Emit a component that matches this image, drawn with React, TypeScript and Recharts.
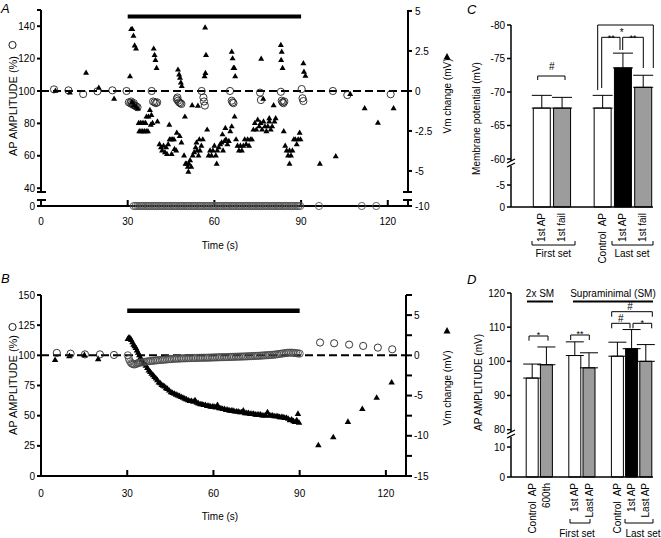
import React from 'react';
import { ComposedChart, Scatter, XAxis, YAxis, ReferenceLine, BarChart, Bar, Cell, ErrorBar } from 'recharts';

type Pt = [number, number];

// ---------- A: AP amplitude (%) and Vm change (mV) vs time (s), intermittent failures
const aAmpPre: Pt[] = [[4.5, 101], [9.5, 100.4], [14.6, 98.1], [19.5, 99.8], [24.7, 100.4], [29.6, 100]];
const aAmpStim: Pt[] = [
  [30.4, 93], [30.9, 92.5], [31.2, 93.5], [31.4, 92], [31.9, 91.5], [32.1, 92.5], [32.4, 91], [32.9, 90.5], [33.4, 90],
  [38.3, 100], [38.8, 93.5], [39.3, 93], [39.8, 92.5], [40.2, 93],
  [47.0, 95], [47.2, 96], [47.4, 94], [47.8, 93], [48.2, 92.5], [48.6, 92],
  [55.6, 100], [56.2, 96], [56.4, 93.5], [56.7, 91],
  [65.4, 100], [66.0, 94], [66.3, 93], [66.6, 92.5],
  [75.8, 99], [76.1, 94.4],
  [83.0, 99.5], [83.3, 94], [83.6, 93], [83.9, 92.5], [84.2, 93.5],
  [90.2, 101.2], [90.5, 95.5], [90.8, 93.8],
];
const aAmpPost: Pt[] = [[101, 100], [106, 97.5], [121, 98]];
// failures (0 %)
const aFailTimes = [
  32.1, 32.7, 33.3, 33.9, 34.5, 35.1, 35.7, 36.3, 36.9, 37.5, 38.1, 38.7, 39.3, 39.9, 40.5, 41.1, 41.7, 42.3, 42.9, 43.5,
  44.1, 44.7, 45.3, 45.9, 46.5, 47.1, 47.7, 48.3, 48.9, 49.5, 50.1, 50.7, 51.3, 51.9, 52.5, 53.1, 53.7, 54.3, 54.9, 55.5,
  56.1, 56.7, 57.3, 57.9, 58.5, 59.1, 59.7, 60.3, 60.9, 61.5, 62.1, 62.7, 63.3, 63.9, 64.5, 65.1, 65.7, 66.3, 66.9, 67.5,
  68.1, 68.7, 69.3, 69.9, 70.5, 71.1, 71.7, 72.3, 72.9, 73.5, 74.1, 74.7, 75.3, 75.9, 76.5, 77.1, 77.7, 78.3, 78.9, 79.5,
  80.1, 80.7, 81.3, 81.9, 82.5, 83.1, 83.7, 84.3, 84.9, 85.5, 86.1, 86.7, 87.3, 87.9, 88.5, 89.1, 89.7, 96.2, 111, 116,
];
const aVmPre: Pt[] = [[5, 0], [10, -0.12], [15.6, 1.12], [20, 0.19], [25.3, -0.5]];
const aVmStim: Pt[] = [
  [30.8, 0.91],
  [31.2, 3.85], [31.6, 3.85], [32.0, 3.44], [32.4, 2.83], [32.9, 2.63],
  [31.5, -0.71], [32.2, -0.91], [33.0, -1.01], [33.5, -1.11],
  [33.8, -2.02], [34.4, -2.02], [35.0, -2.02], [35.6, -2.02], [36.2, -2.02],
  [34.0, -2.53], [34.6, -2.53], [35.2, -2.53], [35.8, -2.53], [36.4, -2.53], [37.0, -2.53],
  [36.5, -1.62], [37.2, -1.62], [37.7, -1.21], [38.2, -1.52], [38.0, -2.13], [38.6, -2.02],
  [39.0, 2.63], [39.3, 2.23], [39.6, 1.92], [40.0, 1.42],
  [40.3, -1.92],
  [41.0, -3.34], [41.5, -3.54], [41.9, -3.74], [42.4, -3.44], [42.9, -3.85], [43.3, -3.54],
  [43.6, -3.95], [44.0, -3.34], [44.5, -3.04], [45.0, -3.04], [45.5, -3.04], [46.0, -3.04],
  [44.4, -2.13], [45.2, -3.95], [46.2, -3.64], [46.8, -3.74], [47.0, -2.63],
  [47.4, 1.32], [47.8, 1.01], [48.1, 0.81], [48.4, 0.51], [48.7, 0.3],
  [48.0, -2.83], [48.6, -3.24],
  [49.5, -4.05], [50.0, -4.56], [50.4, -4.56], [50.8, -4.76], [51.2, -4.56], [51.6, -4.35], [52.0, -4.76],
  [51.0, -5.06], [49.8, -1.62], [52.3, -0.91], [54.3, -0.94],
  [52.5, -4.05], [53.0, -3.85], [53.5, -3.54], [54.0, -3.74], [54.5, -4.05], [55.0, -3.74], [55.5, -3.44],
  [53.8, -3.24], [54.8, -3.04], [56.0, -3.04],
  [56.8, 3.95], [57.1, 2.23], [56.9, 1.11], [56.6, 0.91],
  [57.5, -2.43],
  [58.0, -4.05], [58.5, -3.74], [59.0, -4.05], [59.5, -3.74], [60.0, -3.44], [60.5, -4.05], [61.0, -3.74], [61.5, -3.54], [62.0, -3.34],
  [60.8, -4.56],
  [62.5, -3.24], [63.0, -3.74], [63.5, -3.14], [64.0, -3.04], [64.5, -3.34], [65.0, -3.14],
  [62.8, -2.73], [63.8, -2.33], [65.5, -2.53], [66.0, -2.23],
  [66.0, 2.43], [66.3, 2.02], [66.6, 1.42], [66.9, 1.42], [67.2, 0.91],
  [67.0, -1.62],
  [67.5, -3.04], [68.0, -3.44], [68.5, -3.74], [69.0, -3.44], [69.5, -3.74], [70.0, -3.44], [70.5, -3.04], [71.0, -3.34], [71.5, -3.04],
  [72.0, -3.44], [72.5, -3.04], [73.0, -3.04],
  [73.5, -2.43], [74.0, -2.02], [74.5, -2.43], [75.0, -1.82], [75.5, -2.23], [76.0, -2.02], [76.5, -2.43], [77.0, -1.92],
  [77.5, -2.23], [78.0, -2.53], [78.5, -2.23], [79.0, -1.92], [79.5, -2.43], [80.0, -2.23],
  [76.2, 2.0], [76.9, -0.51], [79.0, -1.72], [80.5, -0.91], [80.8, -1.92], [81.2, -1.72],
  [83.0, 2.86], [83.3, 2.43], [83.1, 1.92], [83.6, 1.42],
  [84.0, -2.53],
  [84.5, -3.44], [85.0, -3.74], [85.5, -4.05], [86.0, -3.74], [86.5, -4.05], [87.0, -3.74], [86.0, -4.56],
  [87.5, -3.04], [88.0, -3.04], [88.5, -3.34], [89.0, -3.04], [89.5, -2.63], [89.8, -3.04],
  [90.8, 1.72], [91.0, 1.19], [91.5, 0.94],
];
const aVmPost: Pt[] = [[96.5, -4.56], [102, -4.1], [107, -0.2], [112, -1.1], [116.6, -2.0], [122, -1.1]];

// broken left axis: 0 % is drawn just under the break, 40..150 % is linear
const ampA = (v: number) => (v >= 40 ? v : 29 + (v * 11) / 40);
const aAmpTicks = [29, 40, 60, 80, 100, 120, 140, 150];
const aAmpLabels = ['0', '40', '60', '80', '100', '120', '140', ''];
const A_VM_FLOOR = -7.19; // where "-10" sits below the right-axis break
const aVmTicks = [A_VM_FLOOR, -5, -2.5, 0, 2.5, 5];
const aVmLabels = ['-10', '-5', '-2.5', '0', '2.5', '5'];

// ---------- B: smooth hyperpolarisation, no failures
const bAmpPre: Pt[] = [[5.5, 102], [10.3, 101.4], [15.3, 100.8], [20.5, 100.8], [25.4, 100.3]];
const bAmpStim: Pt[] = [
  [30.2, 100], [30.6, 97], [31.0, 95], [31.4, 93.5], [31.8, 93], [32.2, 92.5], [32.7, 92.5], [33.2, 93], [33.7, 93.5], [34.2, 94],
  [34.8, 94], [35.4, 94.3], [36.0, 94.5], [36.6, 94.8], [37.2, 95], [37.8, 95.2], [38.4, 95.4], [39.0, 95.5], [39.6, 95.7], [40.2, 95.8],
  [40.8, 96], [41.4, 96.1], [42.0, 96.2], [42.6, 96.4], [43.2, 96.5], [43.8, 96.6], [44.4, 96.8], [45.0, 96.9], [45.6, 97], [46.2, 97.1],
  [46.8, 97.2], [47.4, 97.3], [48.0, 97.3], [48.6, 97.4], [49.2, 97.5], [49.8, 97.5], [50.4, 97.6], [51.0, 97.6], [51.6, 97.7], [52.2, 97.7],
  [52.8, 97.8], [53.4, 97.8], [54.0, 97.8], [54.6, 97.9], [55.2, 97.9], [55.8, 98], [56.4, 98], [57.0, 98], [57.6, 98], [58.2, 98.1],
  [58.8, 98.1], [59.4, 98.2], [60.0, 98.2], [60.6, 98.3], [61.2, 98.3], [61.8, 98.4], [62.4, 98.4], [63.0, 98.5], [63.6, 98.5], [64.2, 98.5],
  [64.8, 98.6], [65.4, 98.6], [66.0, 98.7], [66.6, 98.7], [67.2, 98.8], [67.8, 98.8], [68.4, 98.9], [69.0, 98.9], [69.6, 99], [70.2, 99],
  [70.8, 99.1], [71.4, 99.1], [72.0, 99.2], [72.6, 99.3], [73.2, 99.3], [73.8, 99.4], [74.4, 99.5], [75.0, 99.5], [75.6, 99.6], [76.2, 99.7],
  [76.8, 99.8], [77.4, 99.9], [78.0, 100], [78.6, 100.1], [79.2, 100.2], [79.8, 100.3], [80.4, 100.4], [81.0, 100.5], [81.6, 100.7], [82.2, 100.9],
  [82.8, 101.1], [83.4, 101.3], [84.0, 101.5], [84.6, 101.7], [85.2, 101.9], [85.8, 102.1], [86.4, 102.2], [87.0, 102.2], [87.6, 102.1], [88.2, 102],
  [88.8, 101.8], [89.4, 101.6], [90.0, 101.4],
];
const bAmpPost: Pt[] = [[97.1, 110.6], [102, 110], [107.2, 108.9], [112.1, 107.8], [117.2, 106.4], [122.2, 105]];
const bVmPre: Pt[] = [[4.9, -0.6], [9.9, -0.12], [15.1, 0], [19.9, -0.5]];
const bVmStim: Pt[] = [
  [30.2, 2.0], [30.6, 2.2], [31.0, 2.1], [31.4, 1.9], [31.8, 1.6], [32.2, 1.3], [32.6, 1.1], [33.0, 0.9], [33.4, 0.6], [33.8, 0.3],
  [34.2, 0.0], [34.6, -0.3], [35.0, -0.6], [35.5, -0.9], [36.0, -1.1], [36.5, -1.3], [37.0, -1.6], [37.5, -1.9], [38.0, -2.1], [38.5, -2.3],
  [39.0, -2.5], [39.5, -2.7], [40.0, -2.9], [40.5, -3.1], [41.0, -3.4], [41.5, -3.5], [42.0, -3.7], [42.5, -3.8], [43.0, -3.9], [43.5, -4.1],
  [44.0, -4.2], [44.6, -4.4], [45.2, -4.6], [45.8, -4.7], [46.4, -4.8], [47.0, -4.9], [47.6, -5.0], [48.2, -5.1], [48.8, -5.2], [49.4, -5.3],
  [50.0, -5.4], [50.6, -5.5], [51.2, -5.6], [51.8, -5.7], [52.4, -5.7], [53.0, -5.8], [53.6, -5.6], [54.2, -5.9], [54.8, -6.0], [55.4, -6.1],
  [56.0, -6.1], [56.6, -6.2], [57.2, -6.2], [57.8, -6.3], [58.4, -6.3], [59.0, -6.4], [59.6, -6.4], [60.2, -6.4], [60.8, -6.5], [61.4, -6.2],
  [62.0, -6.6], [62.6, -6.6], [63.2, -6.7], [63.8, -6.7], [64.4, -6.8], [65.0, -6.8], [65.6, -6.9], [66.2, -6.9], [66.8, -6.9], [67.4, -7.0],
  [68.0, -7.0], [68.6, -7.0], [69.2, -7.1], [69.8, -7.1], [70.4, -6.9], [71.0, -7.2], [71.6, -7.2], [72.2, -7.2], [72.8, -7.3], [73.4, -7.3],
  [74.0, -7.3], [74.6, -7.4], [75.2, -7.4], [75.8, -7.4], [76.4, -7.4], [77.0, -7.5], [77.6, -7.5], [78.2, -7.5], [78.8, -7.1], [79.4, -7.5],
  [80.0, -7.5], [80.6, -7.5], [81.2, -7.6], [81.8, -7.6], [82.4, -7.6], [83.0, -7.7], [83.6, -7.7], [84.2, -7.7], [84.8, -7.8], [85.4, -7.8],
  [86.0, -7.9], [86.6, -8.1], [87.2, -8.0], [87.8, -8.2], [88.4, -8.3], [89.0, -8.1], [89.4, -7.3], [89.8, -8.4],
];
const bVmPost: Pt[] = [[96.5, -11.2], [101.7, -10.2], [106.8, -8.3], [111.8, -6.7], [116.8, -5.3], [122, -3.4]];
const bVmTicks = [-15, -12.5, -10, -7.5, -5, -2.5, 0, 2.5, 5, 7.5];

// ---------- C: membrane potential (mV), mean + SD
const cLabels = ['', '1st AP', '1st fail', '', 'Control  AP', '1st AP', '1st fail'];
const cMean = [null, -67.6, -67.6, null, -67.6, -73.6, -70.7];
const cSd = [null, 1.9, 1.6, null, 1.9, 2.2, 1.8];
const cFill = ['#fff', '#fff', '#9c9c9c', '#fff', '#fff', '#000', '#9c9c9c'];
const cTickVals = [0, -5, -60, -65, -70, -75, -80];

// ---------- D: AP amplitude (mV), mean + SD
const dLabels = ['', 'Control  AP', '600th', '', '1st AP', 'Last AP', '', 'Control  AP', '1st AP', 'Last AP'];
const dMean = [null, 95.1, 99.0, null, 101.7, 98.1, null, 101.5, 103.7, 100.0];
const dSd = [null, 4.1, 5.2, null, 4.0, 4.4, null, 4.1, 5.6, 4.9];
const dFill = ['#fff', '#fff', '#9c9c9c', '#fff', '#fff', '#9c9c9c', '#fff', '#fff', '#000', '#9c9c9c'];
const dTickVals = [0, 10, 80, 90, 100, 110, 120];

// broken y scales of the bar panels (display units = px above the x axis)
const cDisp = (v: number) => {
  const a = -v;
  if (a <= 5) return a * 4.4;
  if (a <= 60) return 22 + ((a - 5) * 26) / 55;
  return 48 + (a - 60) * 6.7;
};
const dDisp = (v: number) => {
  if (v <= 10) return v * 3;
  if (v <= 80) return 30 + ((v - 10) * 17.4) / 70;
  return 47.4 + (v - 80) * 3.42;
};

const pts = (arr: Pt[], f: (v: number) => number = (v) => v) => arr.map(([t, v]) => ({ t, y: f(v) }));
const lookup = (ticks: number[], labels: string[]) => (v: number) => {
  const i = ticks.findIndex((t) => Math.abs(t - v) < 1e-6);
  return i < 0 ? '' : labels[i];
};

const tri = (side: number) => (p: any) => {
  const h = side * 0.866;
  return (
    <polygon
      points={`${p.cx},${p.cy - (h * 2) / 3} ${p.cx - side / 2},${p.cy + h / 3} ${p.cx + side / 2},${p.cy + h / 3}`}
      fill="#000"
    />
  );
};
const ring = (r: number, color: string) => (p: any) => (
  <circle cx={p.cx} cy={p.cy} r={r} fill="none" stroke={color} strokeWidth={0.9} />
);

const rotTick = (labels: string[]) => (p: any) => (
  <text
    x={p.x}
    y={p.y}
    transform={`rotate(-90 ${p.x} ${p.y})`}
    textAnchor="end"
    dominantBaseline="central"
    fontSize={10}
    fill="#000"
    style={{ whiteSpace: 'pre' }}
  >
    {labels[Number(p.payload.value)]}
  </text>
);

const tickFont = { fontSize: 10, fill: '#000' };
const axis2 = { stroke: '#000', strokeWidth: 2 };
const axis15 = { stroke: '#000', strokeWidth: 1.5 };

const barData = (mean: (number | null)[], sd: (number | null)[], disp: (v: number) => number) =>
  mean.map((m, i) => ({
    k: String(i),
    d: m == null ? null : disp(m),
    e: m == null ? undefined : [0, disp(m > 0 ? m + (sd[i] as number) : m - (sd[i] as number)) - disp(m)],
  }));

const cData = barData(cMean, cSd, cDisp);
const dData = barData(dMean, dSd, dDisp);
const cTicks = cTickVals.map(cDisp);
const dTicks = dTickVals.map(dDisp);

const Bracket = ({ d }: { d: string }) => <path d={d} fill="none" stroke="#000" strokeWidth={1} />;
const T = (props: any) => <text fill="#000" fontSize={10} {...props} />;

export default function App() {
  return (
    <div
      style={{
        position: 'absolute',
        left: 0,
        top: 0,
        width: 661,
        height: 538,
        background: '#fff',
        fontFamily: '"Liberation Sans", Arial, sans-serif',
        overflow: 'hidden',
      }}
    >
      {/* A */}
      <div style={{ position: 'absolute', left: 0, top: 0 }}>
        <ComposedChart width={460} height={250} margin={{ top: 10, right: 12, bottom: 14, left: 5 }}>
          <XAxis type="number" dataKey="t" domain={[0, 127]} ticks={[0, 30, 60, 90, 120]} interval={0}
            height={30} tickSize={-6} tickMargin={18} axisLine={axis2} tickLine={axis2} tick={tickFont} />
          <YAxis yAxisId="left" type="number" domain={[29, 150]} ticks={aAmpTicks} interval={0} width={36}
            tickSize={4} tickMargin={2} axisLine={axis2} tickLine={axis2} tick={tickFont}
            tickFormatter={lookup(aAmpTicks, aAmpLabels)} />
          <YAxis yAxisId="right" orientation="right" type="number" domain={[A_VM_FLOOR, 5.06]} ticks={aVmTicks}
            interval={0} width={40} tickSize={4} tickMargin={3} axisLine={axis2} tickLine={axis2} tick={tickFont}
            tickFormatter={lookup(aVmTicks, aVmLabels)} />
          <ReferenceLine yAxisId="left" y={100} stroke="#000" strokeWidth={2} strokeDasharray="8 4" />
          <ReferenceLine yAxisId="left" segment={[{ x: 30, y: 146 }, { x: 90, y: 146 }]} stroke="#000" strokeWidth={4} />
          <Scatter yAxisId="left" data={aFailTimes.map((t) => ({ t, y: ampA(0) }))} dataKey="y"
            shape={ring(3.6, '#555')} isAnimationActive={false} />
          <Scatter yAxisId="left" data={pts([...aAmpPre, ...aAmpStim, ...aAmpPost], ampA)} dataKey="y"
            shape={ring(3.6, '#222')} isAnimationActive={false} />
          <Scatter yAxisId="right" data={pts([...aVmPre, ...aVmStim, ...aVmPost])} dataKey="y"
            shape={tri(6)} isAnimationActive={false} />
        </ComposedChart>
      </div>

      {/* B */}
      <div style={{ position: 'absolute', left: 0, top: 280 }}>
        <ComposedChart width={460} height={258} margin={{ top: 15, right: 14, bottom: 32, left: 5 }}>
          <XAxis type="number" dataKey="t" domain={[0, 127]} ticks={[0, 30, 60, 90, 120]} interval={0}
            height={30} tickSize={-6} tickMargin={20} axisLine={axis2} tickLine={axis2} tick={tickFont} />
          <YAxis yAxisId="left" type="number" domain={[0, 150]} ticks={[0, 25, 50, 75, 100, 125, 150]} interval={0}
            width={36} tickSize={4} tickMargin={2} axisLine={axis2} tickLine={axis2} tick={tickFont} />
          <YAxis yAxisId="right" orientation="right" type="number" domain={[-15, 7.5]} ticks={bVmTicks} interval={0}
            width={40} tickSize={6} tickMargin={2} axisLine={axis2} tickLine={axis2} tick={tickFont}
            tickFormatter={(v: number) => (v % 5 === 0 ? String(v) : '')} />
          <ReferenceLine yAxisId="left" y={100} stroke="#000" strokeWidth={2} strokeDasharray="8 4" />
          <ReferenceLine yAxisId="left" segment={[{ x: 30, y: 137 }, { x: 90, y: 137 }]} stroke="#000" strokeWidth={4.5} />
          <Scatter yAxisId="right" data={pts([...bVmPre, ...bVmStim, ...bVmPost])} dataKey="y"
            shape={tri(6.5)} isAnimationActive={false} />
          <Scatter yAxisId="left" data={pts(bAmpStim)} dataKey="y" shape={ring(3.6, '#4a4a4a')} isAnimationActive={false} />
          <Scatter yAxisId="left" data={pts([...bAmpPre, ...bAmpPost])} dataKey="y" shape={ring(3.6, '#222')}
            isAnimationActive={false} />
        </ComposedChart>
      </div>

      {/* C */}
      <div style={{ position: 'absolute', left: 440, top: 0 }}>
        <BarChart width={221} height={270} data={cData} margin={{ top: 25, right: 8, bottom: 0, left: 31 }}>
          <XAxis dataKey="k" type="category" height={63} interval={0} tickSize={0} tickMargin={6}
            axisLine={axis15} tickLine={false} tick={rotTick(cLabels)} />
          <YAxis type="number" domain={[0, 182]} ticks={cTicks} interval={0} width={40} tickSize={4} tickMargin={2}
            axisLine={axis15} tickLine={axis15} tick={tickFont} tickFormatter={lookup(cTicks, cTickVals.map(String))} />
          <Bar dataKey="d" barSize={17} stroke="#000" strokeWidth={1} isAnimationActive={false}>
            {cFill.map((f, i) => (
              <Cell key={i} fill={f} />
            ))}
            <ErrorBar dataKey="e" width={10} stroke="#000" strokeWidth={1} direction="y" />
          </Bar>
        </BarChart>
      </div>

      {/* D */}
      <div style={{ position: 'absolute', left: 440, top: 280 }}>
        <BarChart width={221} height={258} data={dData} margin={{ top: 13, right: 8, bottom: 0, left: 31 }}>
          <XAxis dataKey="k" type="category" height={61} interval={0} tickSize={0} tickMargin={6}
            axisLine={axis15} tickLine={false} tick={rotTick(dLabels)} />
          <YAxis type="number" domain={[0, dDisp(120)]} ticks={dTicks} interval={0} width={40} tickSize={4} tickMargin={2}
            axisLine={axis15} tickLine={axis15} tick={tickFont} tickFormatter={lookup(dTicks, dTickVals.map(String))} />
          <Bar dataKey="d" barSize={12} stroke="#000" strokeWidth={1} isAnimationActive={false}>
            {dFill.map((f, i) => (
              <Cell key={i} fill={f} />
            ))}
            <ErrorBar dataKey="e" width={9} stroke="#000" strokeWidth={1} direction="y" />
          </Bar>
        </BarChart>
      </div>

      {/* annotations */}
      <svg width={661} height={538} style={{ position: 'absolute', left: 0, top: 0, pointerEvents: 'none' }}>
        {/* panel letters */}
        <T x={1} y={13} fontSize={13} fontStyle="italic">A</T>
        <T x={1} y={283} fontSize={13} fontStyle="italic">B</T>
        <T x={467} y={14} fontSize={13} fontStyle="italic">C</T>
        <T x={467} y={284} fontSize={13} fontStyle="italic">D</T>

        {/* axis titles */}
        <circle cx={12.5} cy={45} r={3.6} fill="none" stroke="#000" strokeWidth={0.9} />
        <T x={16.5} y={106} fontSize={11} textAnchor="middle" transform="rotate(-90 16.5 106)">AP AMPLITUDE (%)</T>
        <polygon points="447,53 443.5,59.5 450.5,59.5" fill="#000" />
        <T x={451} y={96} textAnchor="middle" transform="rotate(-90 451 96)">Vm change (mV)</T>
        <T x={220} y={249} textAnchor="middle">Time (s)</T>

        <circle cx={12.5} cy={327} r={3.6} fill="none" stroke="#000" strokeWidth={0.9} />
        <T x={16.5} y={385} fontSize={11} textAnchor="middle" transform="rotate(-90 16.5 385)">AP AMPLITUDE (%)</T>
        <polygon points="447,327 443.5,333.5 450.5,333.5" fill="#000" />
        <T x={451} y={388} textAnchor="middle" transform="rotate(-90 451 388)">Vm change (mV)</T>
        <T x={220} y={520} textAnchor="middle">Time (s)</T>

        <T x={480} y={118.5} textAnchor="middle" transform="rotate(-90 480 118.5)">Membrane potential (mV)</T>
        <T x={481.5} y={382.5} textAnchor="middle" transform="rotate(-90 481.5 382.5)">AP AMPLITUDE (mV)</T>

        {/* axis breaks in A */}
        <rect x={36} y={192} width={10} height={8} fill="#fff" />
        <line x1={37} y1={192} x2={46} y2={192} stroke="#000" strokeWidth={2} />
        <line x1={37} y1={200} x2={46} y2={200} stroke="#000" strokeWidth={2} />
        <rect x={403} y={192} width={10} height={8} fill="#fff" />
        <line x1={403} y1={192} x2={412} y2={192} stroke="#000" strokeWidth={2} />
        <line x1={403} y1={200} x2={412} y2={200} stroke="#000" strokeWidth={2} />

        {/* axis breaks in C and D */}
        <rect x={508} y={161} width={6} height={5} fill="#fff" />
        <line x1={507} y1={163} x2={515} y2={159} stroke="#000" strokeWidth={1.2} />
        <line x1={507} y1={167} x2={515} y2={163} stroke="#000" strokeWidth={1.2} />
        <rect x={508} y={432} width={6} height={5} fill="#fff" />
        <line x1={507} y1={434} x2={515} y2={430} stroke="#000" strokeWidth={1.2} />
        <line x1={507} y1={438} x2={515} y2={434} stroke="#000" strokeWidth={1.2} />

        {/* C brackets */}
        <Bracket d="M532,241 V245 H575 V241" />
        <T x={553.3} y={257} textAnchor="middle">First set</T>
        <Bracket d="M612,241 V245 H653 V241" />
        <T x={632} y={257} textAnchor="middle">Last set</T>
        <Bracket d="M537.7,80 V76 H565 V80" />
        <T x={551.7} y={70} textAnchor="middle">#</T>
        <Bracket d="M597.7,90 V25 H653.3 V68" />
        <T x={621.7} y={36} textAnchor="middle">*</T>
        <Bracket d="M601.7,88 V37.3 H620 V50" />
        <T x={611.2} y={40.5} textAnchor="middle" fontSize={9}>**</T>
        <Bracket d="M622.7,50 V37.3 H643.3 V68" />
        <T x={633} y={40.5} textAnchor="middle" fontSize={9}>**</T>

        {/* D headers and brackets */}
        <T x={540} y={297} textAnchor="middle">2x SM</T>
        <line x1={527} y1={301.5} x2={553} y2={301.5} stroke="#000" strokeWidth={2} />
        <T x={613} y={297} textAnchor="middle">Supraminimal (SM)</T>
        <line x1={573} y1={301.5} x2={653} y2={301.5} stroke="#000" strokeWidth={2} />
        <Bracket d="M529,340.7 V336 H548 V340.7" />
        <T x={538.5} y={337.5} textAnchor="middle" fontSize={9}>*</T>
        <Bracket d="M570.7,340 V335 H589.3 V340" />
        <T x={580} y={337} textAnchor="middle" fontSize={9}>**</T>
        <Bracket d="M611.7,316.7 V311.7 H652.3 V316.7" />
        <T x={630} y={310} textAnchor="middle">#</T>
        <Bracket d="M611.7,328.3 V323.3 H630 V328.3" />
        <T x={620.8} y={322} textAnchor="middle">#</T>
        <Bracket d="M633,328.3 V323.3 H651.7 V328.3" />
        <T x={642.3} y={325.5} textAnchor="middle" fontSize={9}>*</T>
        <Bracket d="M570,519 V523 H590 V519" />
        <T x={577} y={537} textAnchor="middle">First set</T>
        <Bracket d="M625,519 V523 H653 V519" />
        <T x={643} y={537} textAnchor="middle">Last set</T>
      </svg>
    </div>
  );
}
